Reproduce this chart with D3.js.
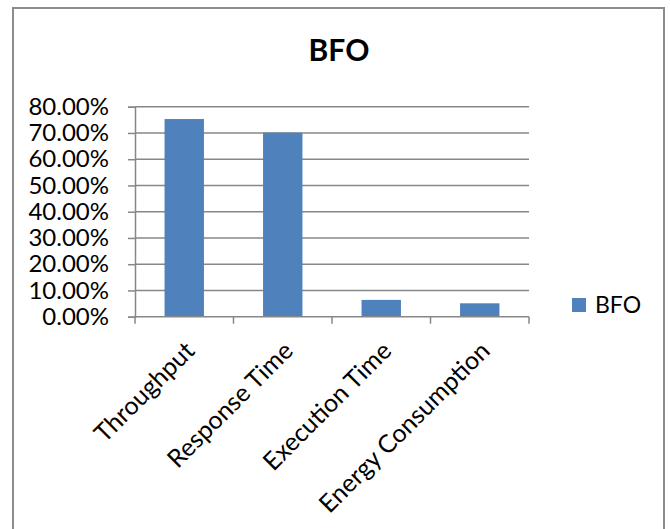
<!DOCTYPE html>
<html>
<head>
<meta charset="utf-8">
<script src="https://cdn.jsdelivr.net/npm/d3@7"></script>
<style>
  html, body { margin: 0; padding: 0; background: #fff; }
  svg { display: block; }
  text { font-family: Lato, "Open Sans", sans-serif; fill: #000; }
</style>
</head>
<body>
<svg id="chart" width="670" height="529"></svg>
<script>
// Chart data
const title = "BFO";
const seriesName = "BFO";
const categories = ["Throughput", "Response Time", "Execution Time", "Energy Consumption"];
const values = [0.753, 0.701, 0.064, 0.051];
const yTicks = [0, 0.1, 0.2, 0.3, 0.4, 0.5, 0.6, 0.7, 0.8];

const svg = d3.select("#chart");
const W = 670, H = 529;
const plot = { left: 135, right: 529, top: 106.7, bottom: 316.7 };
const gridColor = "#878787";
const barColor = "#4F81BD";

// Outer frame of the chart area
svg.append("rect")
  .attr("x", 13).attr("y", 8)
  .attr("width", 651).attr("height", H + 10)
  .attr("fill", "#fff")
  .attr("stroke", "#8c8c8c").attr("stroke-width", 2);

// Title
svg.append("text")
  .attr("x", 339).attr("y", 61)
  .attr("text-anchor", "middle")
  .style("font-weight", "bold")
  .style("font-size", "30px")
  .text(title);

const x = d3.scaleBand()
  .domain(categories)
  .range([plot.left, plot.right])
  .paddingInner(0.6)
  .paddingOuter(0.3);

const y = d3.scaleLinear()
  .domain([0, 0.8])
  .range([plot.bottom, plot.top]);

// Horizontal gridlines
svg.append("g")
  .selectAll("line")
  .data(yTicks.filter(d => d > 0))
  .join("line")
  .attr("x1", plot.left).attr("x2", plot.right)
  .attr("y1", d => y(d)).attr("y2", d => y(d))
  .attr("stroke", gridColor).attr("stroke-width", 1.5);

// Y axis
const yAxis = svg.append("g")
  .attr("transform", `translate(${plot.left},0)`)
  .call(d3.axisLeft(y).tickValues(yTicks).tickFormat(d3.format(".2%")).tickSize(7).tickPadding(19));
yAxis.select(".domain").attr("stroke", gridColor).attr("stroke-width", 1.5);
yAxis.selectAll(".tick line").attr("stroke", gridColor).attr("stroke-width", 1.5);
yAxis.selectAll(".tick text")
  .style("font-size", "24px")
  .style("font-family", "Lato, 'Open Sans', sans-serif")
  .attr("fill", "#000");

// Bars
svg.append("g")
  .selectAll("rect")
  .data(categories)
  .join("rect")
  .attr("x", d => x(d))
  .attr("width", x.bandwidth())
  .attr("y", (d, i) => y(values[i]))
  .attr("height", (d, i) => y(0) - y(values[i]))
  .attr("fill", barColor);

// X axis line with ticks at category boundaries
const step = x.step();
const boundaries = d3.range(categories.length + 1).map(i => plot.left + i * step);
svg.append("line")
  .attr("x1", plot.left).attr("x2", plot.right)
  .attr("y1", plot.bottom).attr("y2", plot.bottom)
  .attr("stroke", gridColor).attr("stroke-width", 1.5);
svg.append("g")
  .selectAll("line")
  .data(boundaries)
  .join("line")
  .attr("x1", d => d).attr("x2", d => d)
  .attr("y1", plot.bottom).attr("y2", plot.bottom + 7)
  .attr("stroke", gridColor).attr("stroke-width", 1.5);

// Rotated category labels
svg.append("g")
  .selectAll("text")
  .data(categories)
  .join("text")
  .attr("transform", d => `translate(${x(d) + x.bandwidth() / 2 - 1},${plot.bottom + 23}) rotate(-45)`)
  .attr("text-anchor", "end")
  .attr("dy", "0.72em")
  .style("font-size", "25px")
  .text(d => d);

// Legend
const legend = svg.append("g");
legend.append("rect")
  .attr("x", 572).attr("y", 298)
  .attr("width", 14).attr("height", 14)
  .attr("fill", barColor);
legend.append("text")
  .attr("x", 595).attr("y", 313)
  .style("font-size", "23px")
  .text(seriesName);
</script>
</body>
</html>
